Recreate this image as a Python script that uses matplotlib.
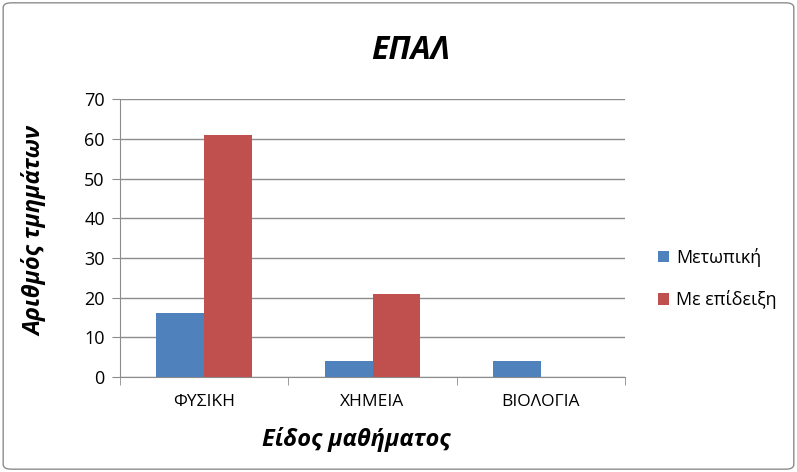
import numpy as np
import matplotlib.pyplot as plt
from matplotlib.patches import FancyBboxPatch

categories = ['ΦΥΣΙΚΗ', 'ΧΗΜΕΙΑ', 'ΒΙΟΛΟΓΙΑ']
metopiki = [16, 4, 4]
me_epideixi = [61, 21, 0]
series_names = ['Μετωπική', 'Με επίδειξη']

plt.rcParams['font.family'] = ['Open Sans', 'DejaVu Sans']

fig = plt.figure(figsize=(7.97, 4.72), dpi=100)
ax = fig.add_axes([0.1506, 0.2013, 0.6336, 0.5887])

# chart border
border = FancyBboxPatch((0.004, 0.006), 0.992, 0.988, boxstyle='round,pad=0,rounding_size=0.01',
                        transform=fig.transFigure, fill=False, edgecolor='#8c8c8c', linewidth=1.0)
fig.patches.append(border)

x = np.arange(len(categories))
w = 0.285
ax.bar(x - w / 2, metopiki, w, color='#4f81bd', label=series_names[0], zorder=3)
ax.bar(x + w / 2, me_epideixi, w, color='#c0504d', label=series_names[1], zorder=3)

ax.set_xlim(-0.5, 2.5)
ax.set_ylim(0, 70)
ax.set_yticks(range(0, 71, 10))
ax.yaxis.grid(True, color='#8c8c8c', linewidth=1.0, zorder=0)

ax.set_xticks(x)
ax.set_xticklabels(categories)
ax.tick_params(axis='x', length=0, pad=12, labelsize=12.5, colors='#000000')
ax.set_xticks([-0.5, 0.5, 1.5, 2.5], minor=True)
ax.tick_params(axis='x', which='minor', length=6, color='#8c8c8c', direction='out')
ax.tick_params(axis='y', length=6, color='#8c8c8c', labelsize=13, pad=5)

for s in ['top', 'right']:
    ax.spines[s].set_visible(False)
for s in ['left', 'bottom']:
    ax.spines[s].set_color('#8c8c8c')

fig.text(0.515, 0.892, 'ΕΠΑΛ', ha='center', va='center', fontsize=23,
         fontweight='bold', fontstyle='italic')
fig.text(0.044, 0.51, 'Αριθμός τμημάτων', ha='center', va='center', rotation=90,
         fontsize=17, fontweight='bold', fontstyle='italic')
fig.text(0.447, 0.068, 'Είδος μαθήματος', ha='center', va='center',
         fontsize=17, fontweight='bold', fontstyle='italic')

fig.legend(loc='center left', bbox_to_anchor=(0.805, 0.41), frameon=False,
           fontsize=13, handlelength=0.6, handleheight=0.6, handletextpad=0.4,
           labelspacing=1.3)

fig.savefig('out.png', dpi=100)
